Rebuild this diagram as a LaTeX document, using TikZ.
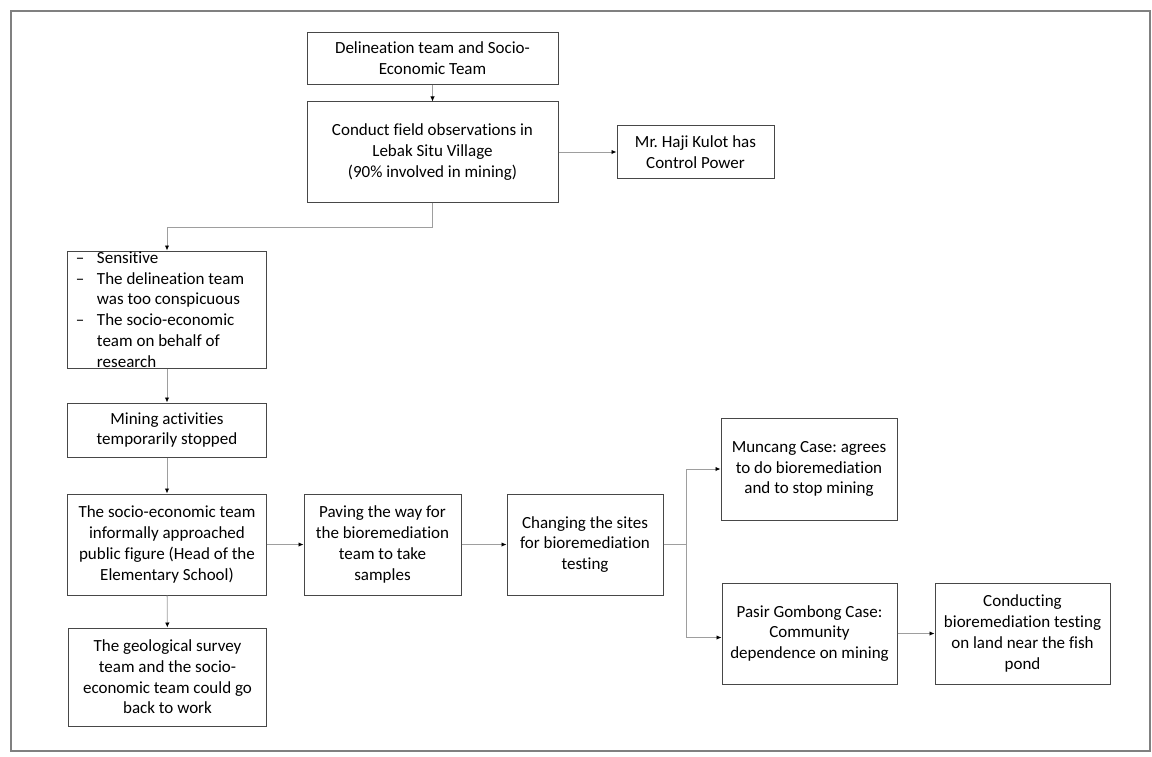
\documentclass[tikz,border=0pt]{standalone}
\usepackage{fontspec}
\setmainfont{Carlito}[Ligatures={TeX,NoCommon}]
\usetikzlibrary{arrows.meta}
\newcommand{\dsh}{\makebox[21bp][l]{--}}
\newcommand{\ind}{\hspace*{21bp}}
\frenchspacing

\begin{document}
\begin{tikzpicture}[x=1bp,y=-1bp,
  blk/.style={draw=black!72, line width=1bp, align=center, font=\fontsize{17bp}{20.7bp}\selectfont, inner sep=2pt},
  arr/.style={-{Latex[length=5bp,width=4.5bp,color=black]}, draw=black!38, line width=0.9bp},
  frm/.style={draw=black!50, line width=1.3bp}]
\useasboundingbox (0,0) rectangle (1152,757);
\draw[frm] (11,11) rectangle (1150,751);
\node[blk, minimum width=251bp, minimum height=51bp]  (A) at (432.5,58.5) {Delineation team and Socio-\\Economic Team};
\node[blk, minimum width=251bp, minimum height=100bp] (B) at (432.5,152)  {Conduct field observations in\\Lebak Situ Village\\(90\% involved in mining)};
\node[blk, minimum width=157bp, minimum height=52bp]  (C) at (695.5,152)  {Mr. Haji Kulot has\\Control Power};
\node[blk, align=flush left, text width=182bp, inner xsep=8bp, inner ysep=-1.5bp, minimum height=117bp] (D) at (167,309.5)
  {\dsh Sensitive\\\dsh The delineation team\\\ind was too conspicuous\\\dsh The socio-economic\\\ind team on behalf of\\\ind research};
\node[blk, minimum width=198bp, minimum height=54bp]  (E) at (167,430)    {Mining activities\\temporarily stopped};
\node[blk, minimum width=198bp, minimum height=101bp] (F) at (167,544.5)  {The socio-economic team\\informally approached\\public figure (Head of the\\Elementary School)};
\node[blk, minimum width=197bp, minimum height=98bp]  (G) at (167.5,677)  {The geological survey\\team and the socio-\\economic team could go\\back to work};
\node[blk, minimum width=157bp, minimum height=101bp] (H) at (382.5,544.5) {Paving the way for\\the bioremediation\\team to take\\samples};
\node[blk, minimum width=156bp, minimum height=101bp] (I) at (585,544.5)  {Changing the sites\\for bioremediation\\testing};
\node[blk, minimum width=176bp, minimum height=102bp] (J) at (809,469)    {Muncang Case: agrees\\to do bioremediation\\and to stop mining};
\node[blk, minimum width=175bp, minimum height=101bp] (K) at (809.5,633.5) {Pasir Gombong Case:\\Community\\dependence on mining};
\node[blk, minimum width=175bp, minimum height=101bp] (L) at (1022.5,633.5) {Conducting\\bioremediation testing\\on land near the fish\\pond};
\draw[arr] (A) -- (B); \draw[arr] (B) -- (C);
\draw[arr] (B.south) -- ++(0,25) -| (D.north);
\draw[arr] (D) -- (E); \draw[arr] (E) -- (F);
\draw[arr] (F) -- (G); \draw[arr] (F) -- (H);
\draw[arr] (H) -- (I);
\draw[arr] (I.east) -- ++(23,0) |- (J.west);
\draw[arr] (I.east) -- ++(23,0) |- ([yshift=-4bp]K.west);
\draw[arr] (K) -- (L);
\end{tikzpicture}
\end{document}
